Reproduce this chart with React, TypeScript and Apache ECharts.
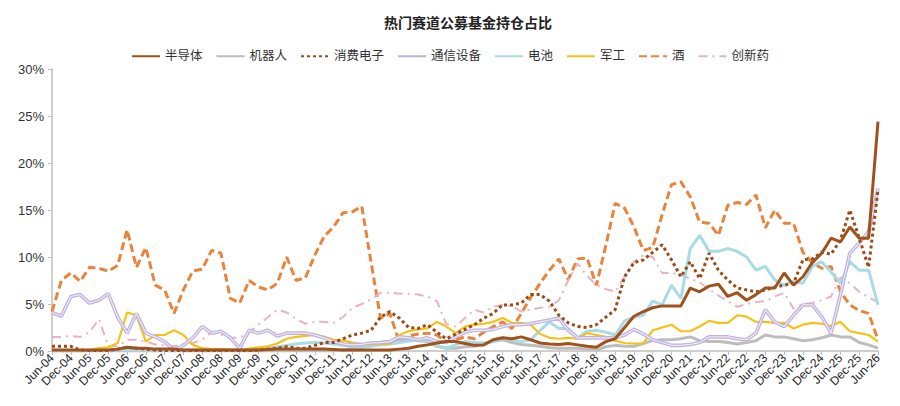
import React, { useEffect, useRef } from "react";
import * as echarts from "echarts";

const categories = [
  "Jun-04","Sep-04","Dec-04","Mar-05","Jun-05","Sep-05","Dec-05","Mar-06","Jun-06","Sep-06",
  "Dec-06","Mar-07","Jun-07","Sep-07","Dec-07","Mar-08","Jun-08","Sep-08","Dec-08","Mar-09",
  "Jun-09","Sep-09","Dec-09","Mar-10","Jun-10","Sep-10","Dec-10","Mar-11","Jun-11","Sep-11",
  "Dec-11","Mar-12","Jun-12","Sep-12","Dec-12","Mar-13","Jun-13","Sep-13","Dec-13","Mar-14",
  "Jun-14","Sep-14","Dec-14","Mar-15","Jun-15","Sep-15","Dec-15","Mar-16","Jun-16","Sep-16",
  "Dec-16","Mar-17","Jun-17","Sep-17","Dec-17","Mar-18","Jun-18","Sep-18","Dec-18","Mar-19",
  "Jun-19","Sep-19","Dec-19","Mar-20","Jun-20","Sep-20","Dec-20","Mar-21","Jun-21","Sep-21",
  "Dec-21","Mar-22","Jun-22","Sep-22","Dec-22","Mar-23","Jun-23","Sep-23","Dec-23","Mar-24",
  "Jun-24","Sep-24","Dec-24","Mar-25","Jun-25","Sep-25","Dec-25","Mar-26","Jun-26",
];

const semiconductor = [
  0.1,0.1,0.1,0.1,0.1,0.1,0.1,0.2,0.4,0.3,
  0.3,0.2,0.2,0.2,0.1,0.1,0.1,0.1,0.1,0.1,
  0.1,0.1,0.1,0.15,0.2,0.2,0.2,0.2,0.2,0.2,
  0.15,0.1,0.1,0.1,0.1,0.1,0.1,0.2,0.3,0.5,
  0.65,0.85,1.0,1.0,0.8,0.6,0.65,1.2,1.4,1.3,
  1.5,1.2,0.85,0.75,0.7,0.8,0.65,0.5,0.4,1.0,
  1.3,2.5,3.7,4.2,4.6,4.8,4.8,4.8,6.7,6.3,
  6.9,7.1,5.8,6.2,5.4,6.0,6.7,6.7,8.3,7.0,
  7.9,9.4,10.4,12.0,11.6,13.2,12.0,12.0,24.4,
];

const robot = [
  0,0,0,0,0,0,0,0,0,0,
  0,0,0,0,0,0,0,0,0,0,
  0,0,0,0,0,0,0,0,0,0,
  0,0.1,0.2,0.4,0.6,0.9,1.0,1.1,1.2,1.1,
  1.0,0.5,0.3,0.3,0.45,0.5,0.8,1.0,1.2,0.9,
  0.7,0.6,0.5,0.35,0.3,0.3,0.3,0.2,0.1,0.45,
  0.6,0.5,0.5,0.8,1.1,1.2,1.2,1.3,1.5,1.1,
  1.0,1.0,0.9,0.75,0.9,1.1,1.7,1.5,1.5,1.3,
  1.1,1.2,1.4,1.7,1.5,1.5,0.9,0.65,0.3,
];

const consumerElectronics = [
  0.5,0.5,0.5,0.1,0.05,0.05,0.05,0.2,0.4,0.3,
  0.2,0.1,0.05,0.05,0.05,0.05,0.05,0.05,0.05,0.05,
  0.05,0.05,0.1,0.2,0.3,0.45,0.3,0.3,0.6,0.9,
  0.9,1.3,1.7,1.9,2.2,3.6,4.2,3.5,2.5,2.4,
  2.8,2.0,1.3,1.8,2.3,2.8,3.5,4.0,4.9,4.9,
  5.1,6.0,6.0,5.3,3.8,3.0,2.6,2.5,2.8,3.6,
  4.4,7.9,9.4,9.7,10.5,11.3,9.7,7.9,9.5,7.7,
  10.4,8.6,7.55,6.7,6.5,6.3,6.5,6.8,7.0,7.2,
  9.7,9.8,10.5,10.3,11.8,15.0,12.0,8.9,17.1,
];

const telecom = [
  4.1,3.7,5.8,6.0,5.1,5.4,6.1,3.6,1.9,4.0,
  1.9,1.5,1.0,0.1,0.6,1.4,2.6,1.9,2.1,1.4,
  0.3,2.2,1.9,2.2,1.6,1.9,1.9,1.9,1.7,1.4,
  1.0,0.75,0.65,0.7,0.85,0.9,1.0,1.5,1.4,1.2,
  1.4,1.0,0.9,1.5,2.0,2.2,2.2,2.3,2.6,2.8,
  2.8,2.9,3.1,3.3,3.5,2.2,1.4,1.4,1.4,1.4,
  1.4,1.7,2.3,1.8,1.2,0.9,0.6,0.6,0.7,0.9,
  1.5,1.5,1.5,1.3,1.2,1.9,4.4,3.1,2.6,3.8,
  4.9,4.9,3.65,1.9,6.0,10.4,11.5,12.7,17.3,
];

const battery = [
  0,0,0,0,0,0.1,0.1,0.1,0.1,0.1,
  0.1,0.1,0.1,0.1,0.1,0.1,0.1,0.1,0.1,0.1,
  0.1,0.15,0.2,0.3,0.45,0.6,0.75,0.85,0.9,0.85,
  0.75,0.6,0.45,0.4,0.5,0.65,0.75,0.9,1.05,1.15,
  1.1,0.6,0.3,0.65,1.0,0.9,0.85,1.0,1.4,1.2,
  1.0,1.2,2.2,3.1,2.4,2.4,1.4,2.1,2.2,2.0,
  1.7,3.2,3.6,3.8,5.3,4.9,7.0,5.6,10.9,12.3,
  10.6,10.6,10.9,10.6,10.0,8.6,9.0,7.55,7.0,7.4,
  7.2,9.0,9.5,8.4,7.2,9.5,8.6,8.6,4.9,
];

const military = [
  0.1,0.1,0.1,0.1,0.1,0.3,0.4,0.85,4.1,3.8,
  1.0,1.7,1.7,2.2,1.7,0.65,0.3,0.2,0.2,0.15,
  0.1,0.25,0.4,0.5,0.8,1.3,1.5,1.6,1.7,1.5,
  1.2,1.1,0.9,0.7,0.7,0.75,0.75,1.7,2.1,2.3,
  2.4,3.1,2.6,1.9,2.6,2.8,2.9,3.1,3.5,3.0,
  3.0,2.8,1.8,1.4,1.3,1.4,1.3,1.9,1.7,1.5,
  1.1,0.85,0.8,0.8,2.2,2.5,2.8,2.1,2.1,2.6,
  3.2,3.0,3.0,3.8,3.65,3.1,3.1,3.0,3.0,2.4,
  2.8,3.0,2.9,2.65,3.1,2.1,1.9,1.7,1.0,
];

const liquor = [
  4.2,7.5,8.3,7.4,8.9,8.8,8.5,9.1,12.9,8.9,
  11.0,7.0,6.5,4.0,6.5,8.5,8.7,10.7,10.4,5.6,
  5.1,7.5,6.8,6.5,7.2,10.0,7.5,7.8,10.2,12.2,
  13.2,14.7,14.8,15.4,9.4,3.5,4.0,0.9,1.6,1.8,
  1.9,1.7,1.0,1.2,1.5,1.3,2.0,2.6,3.1,2.4,
  4.0,5.7,7.2,8.6,9.8,7.6,9.8,9.9,7.0,11.2,
  15.7,15.2,13.2,10.7,11.0,14.5,17.7,18.0,16.4,13.7,
  13.6,12.3,15.5,15.8,15.6,16.6,13.1,15.0,13.6,13.6,
  10.5,9.4,8.8,9.0,6.3,4.9,4.3,4.0,1.2,
];

const innovativeDrug = [
  1.5,1.5,1.6,1.5,2.0,3.4,0.5,0.5,1.2,1.2,
  1.0,0.7,0.6,0.5,0.7,0.85,1.2,2.0,1.7,1.4,
  1.4,2.0,2.8,3.6,4.4,4.1,3.4,2.9,3.1,3.1,
  3.0,3.6,4.6,5.0,5.5,6.2,6.2,6.1,6.1,6.0,
  5.8,5.3,2.9,2.6,3.5,4.4,4.1,4.7,4.9,4.8,
  4.2,4.4,4.6,4.7,5.4,7.5,9.3,8.0,7.0,6.6,
  6.3,7.9,9.5,10.2,10.0,8.3,8.3,8.1,7.7,7.3,
  6.6,5.9,5.3,4.7,5.0,5.2,5.3,5.8,6.2,4.5,
  5.0,5.1,5.4,5.8,7.8,7.2,6.3,5.7,5.2,
];

const seriesNames = ["半导体", "机器人", "消费电子", "通信设备", "电池", "军工", "酒", "创新药"];
const yTicks = { min: 0, max: 30, interval: 5 };

const FONT = "'Liberation Sans', Arial, 'Noto Sans CJK SC', sans-serif";

export default function App() {
  const ref = useRef<HTMLDivElement>(null);

  useEffect(() => {
    document.body.style.margin = "0";
    if (!ref.current) return;
    const chart = echarts.init(ref.current, undefined, { renderer: "svg" });

    const line = (name: string, data: number[], color: string, width: number, type: any) => ({
      name,
      type: "line",
      data,
      symbol: "none",
      showSymbol: false,
      smooth: false,
      itemStyle: { color },
      lineStyle: { color, width, type },
      emphasis: { disabled: true },
    });

    const option: any = {
      animation: false,
      textStyle: { fontFamily: FONT },
      title: {
        text: "热门赛道公募基金持仓占比",
        left: 463,
        top: 11,
        textAlign: "center",
        textStyle: { fontSize: 14, fontWeight: "bold", color: "#222", fontFamily: FONT },
      },
      legend: {
        data: seriesNames,
        top: 45,
        left: "center",
        itemWidth: 28,
        itemHeight: 10,
        itemGap: 13,
        itemStyle: { opacity: 0 },
        textStyle: { fontSize: 12.5, color: "#333", fontFamily: FONT },
      },
      grid: { left: 52, right: 22, top: 69, bottom: 55, containLabel: false },
      xAxis: {
        type: "category",
        data: categories,
        boundaryGap: false,
        axisLine: { lineStyle: { color: "#bfbfbf", width: 1.5 } },
        axisTick: { show: true, interval: 1, length: 4, lineStyle: { color: "#bfbfbf" } },
        axisLabel: { interval: 1, rotate: 45, fontSize: 12, color: "#222", margin: 5, fontFamily: FONT },
        splitLine: { show: false },
      },
      yAxis: {
        type: "value",
        min: yTicks.min,
        max: yTicks.max,
        interval: yTicks.interval,
        axisLine: { show: true, lineStyle: { color: "#bfbfbf", width: 1.5 } },
        axisTick: { show: true, length: 4, lineStyle: { color: "#bfbfbf" } },
        splitLine: { show: false },
        axisLabel: { formatter: "{value}%", fontSize: 13, color: "#333", fontFamily: FONT },
      },
      series: [
        line("酒", liquor, "#e8843c", 3, [8, 4]),
        line("创新药", innovativeDrug, "#e9b3c3", 2, [9, 5, 2, 5]),
        line("机器人", robot, "#bdbdbd", 3, "solid"),
        line("电池", battery, "#a9dbe6", 3, "solid"),
        line("军工", military, "#f5c217", 2.2, "solid"),
        line("通信设备", telecom, "#bfb0dc", 3.6, "solid"),
        {
          name: "_telecomInner",
          type: "line",
          data: telecom,
          symbol: "none",
          silent: true,
          lineStyle: { color: "#eee9f6", width: 1.2 },
          itemStyle: { color: "#eee9f6" },
          emphasis: { disabled: true },
        },
        line("消费电子", consumerElectronics, "#9a4a16", 3, [3, 3]),
        line("半导体", semiconductor, "#a0511c", 3, "solid"),
      ],
    };

    chart.setOption(option);
    return () => chart.dispose();
  }, []);

  return <div ref={ref} style={{ width: 900, height: 406 }} />;
}
